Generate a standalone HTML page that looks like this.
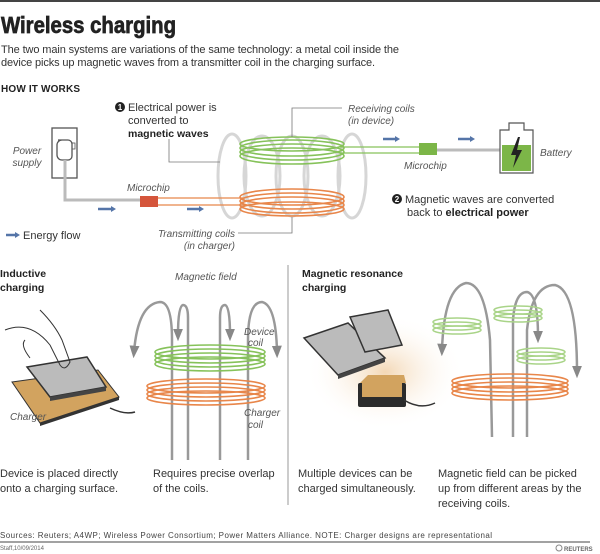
<!DOCTYPE html>
<html><head><meta charset="utf-8"><style>
html,body{margin:0;padding:0;background:#fff;}
svg{display:block;font-family:"Liberation Sans",sans-serif;}
.it{font-style:italic;fill:#555;font-size:10px;}
.c{font-size:11px;fill:#333;}
</style></head><body>
<svg width="600" height="554" viewBox="0 0 600 554" xmlns="http://www.w3.org/2000/svg">
<defs>
<radialGradient id="glow" cx="50%" cy="50%" r="50%"><stop offset="0" stop-color="#f3d8b6"/><stop offset="1" stop-color="#fff" stop-opacity="0"/></radialGradient>
<marker id="ah" viewBox="0 0 10 10" refX="5" refY="5" markerWidth="5" markerHeight="5" orient="auto"><path d="M0,1 L10,5 L0,9 z" fill="#888"/></marker>
</defs>
<rect x="0" y="0" width="600" height="2" fill="#444"/>
<text x="1" y="33" font-size="23" font-weight="bold" fill="#222" stroke="#222" stroke-width="0.7" textLength="175" lengthAdjust="spacingAndGlyphs">Wireless charging</text>
<text x="1" y="53" class="c" fill="#444" textLength="398">The two main systems are variations of the same technology: a metal coil inside the</text>
<text x="1" y="66" class="c" fill="#444" textLength="374">device picks up magnetic waves from a transmitter coil in the charging surface.</text>
<text x="1" y="92" font-size="10" font-weight="bold" fill="#222" textLength="79">HOW IT WORKS</text>

<g fill="none" stroke="#d6d6d6" stroke-width="3">
<ellipse cx="232" cy="176" rx="14" ry="42"/><ellipse cx="262" cy="176" rx="18" ry="40"/><ellipse cx="292" cy="176" rx="16" ry="40"/><ellipse cx="322" cy="176" rx="18" ry="40"/><ellipse cx="352" cy="176" rx="14" ry="42"/>
</g>
<rect x="52" y="128" width="25" height="50" fill="#fff" stroke="#555" stroke-width="1.3"/>
<path d="M58,140 h10 a4,4 0 0 1 4,4 v12 a4,4 0 0 1 -4,4 h-6 a5,5 0 0 1 -5,-5 v-10 a5,5 0 0 1 5,-5z" fill="none" stroke="#555" stroke-width="1.3"/>
<rect x="72" y="143" width="3" height="6" fill="none" stroke="#555" stroke-width="0.8"/>
<path d="M65,160 V200 H140" fill="none" stroke="#bbb" stroke-width="3"/>
<rect x="140" y="196" width="18" height="11" fill="#d5553b"/>
<path d="M158,198 H245 M158,205 H245" stroke="#e8864a" stroke-width="1.3"/>
<g fill="none" stroke="#e8864a" stroke-width="1.6"><ellipse cx="292" cy="197" rx="52" ry="8"/><ellipse cx="292" cy="201" rx="52" ry="8"/><ellipse cx="292" cy="205" rx="52" ry="8"/><ellipse cx="292" cy="209" rx="52" ry="7"/></g>
<g fill="none" stroke="#86c25a" stroke-width="1.6"><ellipse cx="292" cy="144" rx="52" ry="7"/><ellipse cx="292" cy="148" rx="52" ry="8"/><ellipse cx="292" cy="152" rx="52" ry="8"/><ellipse cx="292" cy="156" rx="52" ry="8"/></g>
<path d="M340,147 H419 M340,153 H419" stroke="#86c25a" stroke-width="1.3"/>
<rect x="419" y="143" width="18" height="12" fill="#7cb648"/>
<path d="M437,150 H500" stroke="#bbb" stroke-width="3"/>
<path d="M509,130 V123 H524 V130 H533 V173 H500 V130 Z" fill="#fff" stroke="#555" stroke-width="1.2"/>
<rect x="502" y="145" width="29" height="26" fill="#7cb648"/>
<path d="M518,137 L511,155 L516,155 L513,168 L522,150 L517,150 L520,137 Z" fill="#222"/>
<g stroke="#5575a8" stroke-width="2.5"><path d="M98,209 H112"/><path d="M187,209 H200"/><path d="M383,139 H396"/><path d="M458,139 H471"/><path d="M6,235 H16"/></g>
<g fill="#5575a8"><path d="M111,206 L116,209 L111,212z"/><path d="M199,206 L204,209 L199,212z"/><path d="M395,136 L400,139 L395,142z"/><path d="M470,136 L475,139 L470,142z"/><path d="M15,232 L20,235 L15,238z"/></g>
<path d="M169,139 V162 H220" fill="none" stroke="#777" stroke-width="0.8"/>
<path d="M292,137 V108 H342" fill="none" stroke="#777" stroke-width="0.8"/>
<path d="M238,233 H292 V217" fill="none" stroke="#777" stroke-width="0.8"/>
<circle cx="120" cy="107" r="5" fill="#222"/><text x="120" y="110" font-size="8" fill="#fff" text-anchor="middle" font-weight="bold">1</text>
<text x="128" y="111" class="c" font-size="10.5">Electrical power is</text>
<text x="128" y="124" class="c" font-size="10.5">converted to</text>
<text x="128" y="137" font-size="10.5" font-weight="bold" fill="#222">magnetic waves</text>
<text x="348" y="112" class="it">Receiving coils</text>
<text x="348" y="124" class="it">(in device)</text>
<text x="27" y="154" class="it" text-anchor="middle">Power</text>
<text x="27" y="166" class="it" text-anchor="middle">supply</text>
<text x="127" y="191" class="it">Microchip</text>
<text x="404" y="169" class="it">Microchip</text>
<text x="540" y="156" class="it">Battery</text>
<circle cx="397" cy="199" r="5" fill="#222"/><text x="397" y="202" font-size="8" fill="#fff" text-anchor="middle" font-weight="bold">2</text>
<text x="405" y="203" class="c" font-size="10.5">Magnetic waves are converted</text>
<text x="407" y="216" class="c" font-size="10.5">back to <tspan font-weight="bold" fill="#222">electrical power</tspan></text>
<text x="23" y="239" class="c" font-size="10.5">Energy flow</text>
<text x="235" y="237" class="it" text-anchor="end">Transmitting coils</text>
<text x="235" y="249" class="it" text-anchor="end">(in charger)</text>

<path d="M288,265 V505" stroke="#999" stroke-width="1"/>
<text x="0" y="277" font-size="10.5" font-weight="bold" fill="#222">Inductive</text>
<text x="0" y="291" font-size="10.5" font-weight="bold" fill="#222">charging</text>
<text x="302" y="277" font-size="10.5" font-weight="bold" fill="#222">Magnetic resonance</text>
<text x="302" y="291" font-size="10.5" font-weight="bold" fill="#222">charging</text>
<text x="175" y="280" class="it">Magnetic field</text>

<path d="M12,382 L98,370 L119,397 L40,423 Z" fill="#d2a35f" stroke="#333" stroke-width="1"/>
<path d="M40,423 L119,397 L119,400 L40,426 Z" fill="#333"/>
<path d="M110,408 Q125,415 135,412" fill="none" stroke="#333" stroke-width="1.5"/>
<path d="M27,367 L87,357 L106,387 L50,397 Z" fill="#bbb" stroke="#333" stroke-width="1.5"/>
<path d="M50,397 L106,387 L106,391 L50,401 Z" fill="#444"/>
<path d="M5,330 Q30,320 50,345 L60,365 Q65,372 70,362 L62,340 Q55,325 40,310 M30,358 Q20,345 25,340" fill="none" stroke="#333" stroke-width="1"/>
<text x="10" y="420" class="it">Charger</text>

<g fill="none" stroke="#999" stroke-width="2.5" marker-end="url(#ah)">
<path d="M172,460 L172,340 Q172,302 160,302 Q138,304 134,352"/>
<path d="M188,460 L188,318 Q188,305 183,305 Q178,306 178,335"/>
<path d="M220,460 L220,318 Q220,305 225,305 Q230,306 230,335"/>
<path d="M248,460 L248,340 Q248,302 262,302 Q276,305 277,352"/>
</g>
<g fill="none" stroke="#86c25a" stroke-width="1.6"><ellipse cx="210" cy="352" rx="55" ry="7"/><ellipse cx="210" cy="356" rx="55" ry="7"/><ellipse cx="210" cy="360" rx="55" ry="7"/><ellipse cx="210" cy="364" rx="55" ry="7"/></g>
<g fill="none" stroke="#e8864a" stroke-width="1.6"><ellipse cx="206" cy="386" rx="59" ry="7"/><ellipse cx="206" cy="390" rx="59" ry="7"/><ellipse cx="206" cy="394" rx="59" ry="7"/><ellipse cx="206" cy="398" rx="59" ry="7"/></g>
<text x="244" y="335" class="it">Device</text><text x="248" y="346" class="it">coil</text>
<text x="244" y="416" class="it">Charger</text><text x="248" y="428" class="it">coil</text>

<ellipse cx="385" cy="372" rx="80" ry="58" fill="url(#glow)"/>
<path d="M304,338 L348,323 L385,358 L338,375 Z" fill="#bbb" stroke="#333" stroke-width="1.5"/>
<path d="M338,375 L385,358 L385,362 L338,379 Z" fill="#444"/>
<path d="M350,317 L388,310 L402,345 L365,352 Z" fill="#bbb" stroke="#333" stroke-width="1.5"/>
<rect x="358" y="383" width="48" height="24" rx="2" fill="#2b2b2b"/>
<path d="M360,383 L368,375 L404,375 L406,383 Z" fill="#d2a35f"/>
<rect x="362" y="381" width="40" height="16" fill="#d2a35f"/>
<path d="M404,400 Q420,410 435,403" fill="none" stroke="#333" stroke-width="1.5"/>

<g fill="none" stroke="#999" stroke-width="2.5" marker-end="url(#ah)">
<path d="M492,437 L490,340 Q485,283 466,283 Q444,288 442,350"/>
<path d="M513,437 L513,320 Q515,292 527,292 Q538,294 538,337"/>
<path d="M527,437 L527,330 Q532,285 555,285 Q577,290 577,372"/>
</g>
<g fill="none" stroke="#a9d488" stroke-width="1.5"><ellipse cx="457" cy="322" rx="24" ry="4"/><ellipse cx="457" cy="326" rx="24" ry="4"/><ellipse cx="457" cy="330" rx="24" ry="4"/>
<ellipse cx="518" cy="310" rx="24" ry="4"/><ellipse cx="518" cy="314" rx="24" ry="4"/><ellipse cx="518" cy="318" rx="24" ry="4"/>
<ellipse cx="541" cy="352" rx="24" ry="4"/><ellipse cx="541" cy="356" rx="24" ry="4"/><ellipse cx="541" cy="360" rx="24" ry="4"/></g>
<g fill="none" stroke="#e8864a" stroke-width="1.6"><ellipse cx="510" cy="381" rx="58" ry="7"/><ellipse cx="510" cy="385" rx="58" ry="7"/><ellipse cx="510" cy="389" rx="58" ry="7"/><ellipse cx="510" cy="393" rx="58" ry="7"/></g>

<text x="0" y="477" class="c">Device is placed directly</text>
<text x="0" y="492" class="c">onto a charging surface.</text>
<text x="153" y="477" class="c">Requires precise overlap</text>
<text x="153" y="492" class="c">of the coils.</text>
<text x="298" y="477" class="c">Multiple devices can be</text>
<text x="298" y="492" class="c">charged simultaneously.</text>
<text x="438" y="477" class="c">Magnetic field can be picked</text>
<text x="438" y="492" class="c">up from different areas by the</text>
<text x="438" y="507" class="c">receiving coils.</text>
<text x="0" y="538" font-size="8" fill="#444" textLength="492">Sources: Reuters; A4WP; Wireless Power Consortium; Power Matters Alliance.    NOTE: Charger designs are representational</text>
<path d="M0,542 H590" stroke="#444" stroke-width="1"/>
<text x="0" y="550" font-size="6" fill="#666">Staff,10/09/2014</text>
<circle cx="559" cy="548" r="3" fill="none" stroke="#888" stroke-width="1"/>
<text x="564" y="551" font-size="6" font-weight="bold" fill="#666">REUTERS</text>
</svg>
</body></html>
